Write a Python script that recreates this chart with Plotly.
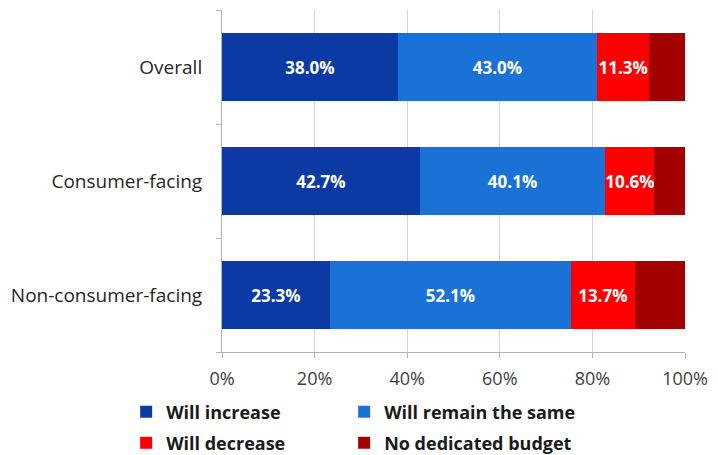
import plotly.graph_objects as go

# Budget outlook by company type (share of respondents, %)
categories = ["Overall", "Consumer-facing", "Non-consumer-facing"]
will_increase = [38.0, 42.7, 23.3]
remain_same = [43.0, 40.1, 52.1]
will_decrease = [11.3, 10.6, 13.7]
no_budget = [7.7, 6.6, 10.9]
x_ticks = [0, 20, 40, 60, 80, 100]

# name, values, colour, show value label, legend row, legend entry width
series = [
    ("Will increase", will_increase, "#0b3aa4", True, "legend", 173),
    ("Will remain the same", remain_same, "#1a72d6", True, "legend", 215),
    ("Will decrease", will_decrease, "#ff0000", True, "legend2", 173),
    ("No dedicated budget", no_budget, "#a30000", False, "legend2", 215),
]

fig = go.Figure()
for name, vals, color, labelled, legend_id, entry_w in series:
    fig.add_trace(go.Bar(
        name=name,
        y=categories,
        x=vals,
        orientation="h",
        width=0.59,
        legend=legend_id,
        legendwidth=entry_w,
        marker=dict(color=color, line=dict(width=0)),
        text=[f"{v:.1f}%" for v in vals] if labelled else None,
        textposition="inside",
        insidetextanchor="middle",
        textangle=0,
        constraintext="none",
        textfont=dict(family="Open Sans", size=17, color="white", weight="bold"),
        cliponaxis=False,
    ))

legend_font = dict(family="Open Sans", size=18, color="#1a1a1a", weight="bold")
legend_common = dict(
    orientation="h",
    x=-0.207, xanchor="left",
    yanchor="middle",
    entrywidthmode="pixels",
    traceorder="normal",
    font=legend_font,
    itemwidth=30,
    bgcolor="rgba(0,0,0,0)",
)

fig.update_layout(
    barmode="stack",
    width=718,
    height=455,
    margin=dict(l=222, r=33, t=10, b=103, autoexpand=False),
    paper_bgcolor="white",
    plot_bgcolor="white",
    showlegend=True,
    legend=dict(y=-0.1754, **legend_common),
    legend2=dict(y=-0.266, **legend_common),
    xaxis=dict(
        range=[0, 100],
        tickvals=x_ticks,
        ticktext=[f"{t}%" for t in x_ticks],
        showgrid=True,
        gridcolor="#d6d6d6",
        gridwidth=1,
        zeroline=False,
        showline=True,
        linecolor="#b4b4b4",
        ticks="outside",
        ticklen=5,
        tickcolor="#b4b4b4",
        ticklabelstandoff=5,
        tickfont=dict(family="Open Sans", size=18, color="#404040"),
    ),
    yaxis=dict(
        categoryorder="array",
        categoryarray=categories[::-1],
        showgrid=False,
        showline=True,
        linecolor="#b4b4b4",
        ticks="outside",
        tickson="boundaries",
        ticklen=5,
        tickcolor="#b4b4b4",
        ticklabelstandoff=15,
        tickfont=dict(family="Open Sans", size=19, color="#262626"),
    ),
)

fig.write_html("out.html")
